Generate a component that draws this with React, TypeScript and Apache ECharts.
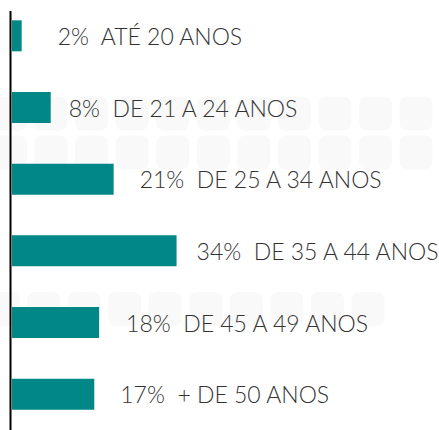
import React, { useEffect, useRef } from "react";
import * as echarts from "echarts";

const categories = [
  "ATÉ 20 ANOS",
  "DE 21 A 24 ANOS",
  "DE 25 A 34 ANOS",
  "DE 35 A 44 ANOS",
  "DE 45 A 49 ANOS",
  "+ DE 50 ANOS",
];
const values = [2, 8, 21, 34, 18, 17];

// label distance from bar end (styling, not data)
const labelGaps = [36, 18, 26, 20, 27, 26];

function buildPattern() {
  const els: any[] = [];
  const fill = "#f9f9f9";
  const w = 33;
  const h = 34;
  const pitch = 40.55;
  const rowsAB = [96.5, 135.5];
  rowsAB.forEach((y) => {
    for (let k = 0; k < 11; k++) {
      els.push({
        type: "rect",
        z: -10,
        shape: { x: -6 + pitch * k, y, width: w, height: h, r: 8 },
        style: { fill },
        silent: true,
      });
    }
  });
  for (let k = 0; k < 10; k++) {
    els.push({
      type: "rect",
      z: -10,
      shape: { x: -13.5 + pitch * k, y: 292, width: w, height: h, r: 8 },
      style: { fill },
      silent: true,
    });
  }
  return els;
}

export default function App() {
  const ref = useRef<HTMLDivElement>(null);
  useEffect(() => {
    document.body.style.margin = "0";
    const chart = echarts.init(ref.current!, null, { renderer: "svg" });
    chart.setOption({
      animation: false,
      backgroundColor: "#ffffff",
      grid: { left: 12, right: 185, top: -2, bottom: -17, containLabel: false },
      xAxis: { type: "value", min: 0, max: 50, show: false },
      yAxis: {
        type: "category",
        inverse: true,
        data: categories,
        axisLine: { show: false },
        axisTick: { show: false },
        axisLabel: { show: false },
        splitLine: { show: false },
      },
      graphic: [
        ...buildPattern(),
        {
          type: "line",
          z: 100,
          shape: { x1: 10.5, y1: 11, x2: 10.5, y2: 432 },
          style: { stroke: "#000000", lineWidth: 2 },
          silent: true,
        },
      ],
      series: [
        {
          type: "bar",
          barWidth: 31,
          itemStyle: { color: "#018786" },
          data: values.map((v, i) => ({
            value: v,
            label: { distance: labelGaps[i] },
          })),
          label: {
            show: true,
            position: "right",
            formatter: (p: any) => `${p.value}%  ${categories[p.dataIndex]}`,
            fontFamily: "Lato",
            fontWeight: 300,
            fontSize: 23,
            color: "#333333",
          },
        },
      ],
    });
    return () => chart.dispose();
  }, []);
  return <div ref={ref} style={{ width: 439, height: 430 }} />;
}
